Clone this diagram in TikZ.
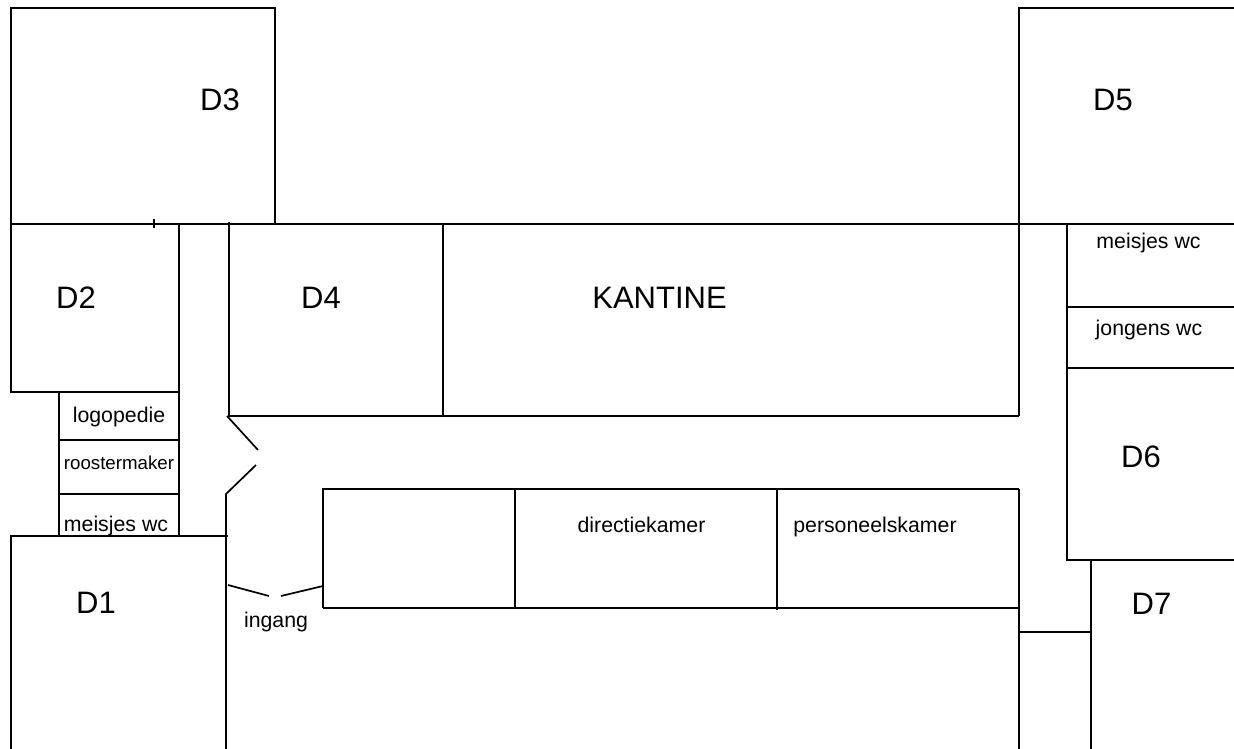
\documentclass[tikz,border=0pt]{standalone}
\usepackage{fontspec}
\setmainfont{Liberation Sans}
\tikzset{
  wall/.style={draw=black,line width=1.7pt,line cap=butt},
  biglabel/.style={inner sep=0pt,anchor=base,font=\fontsize{31}{33}\selectfont},
  roomlabel/.style={inner sep=0pt,anchor=base,font=\fontsize{21.3}{23}\selectfont},
  tinylabel/.style={inner sep=0pt,anchor=base,font=\fontsize{18.7}{20}\selectfont}
}
\begin{document}
\begin{tikzpicture}[x=1pt,y=-1pt]
\useasboundingbox (0,0) rectangle (1234,749);
% top blocks
\draw[wall] (11,224) -- (11,8) -- (275,8) -- (275,224);
\draw[wall] (1234,8) -- (1019,8) -- (1019,416);
\draw[wall] (11,224) -- (1234,224);
\draw[wall] (154,219) -- (154,228);
% left wing
\draw[wall] (11,224) -- (11,392) -- (179,392);
\draw[wall] (179,224) -- (179,536);
\draw[wall] (59,392) -- (59,536);
\draw[wall] (59,440) -- (179,440);
\draw[wall] (59,494) -- (179,494);
\draw[wall] (11,749) -- (11,536) -- (228,536);
\draw[wall] (226,749) -- (226,494) -- (256,465);
% D4 and canteen
\draw[wall] (229,222) -- (229,416) -- (1019,416);
\draw[wall] (443,224) -- (443,416);
\draw[wall] (227,416) -- (258,450);
% entrance
\draw[wall] (228,585) -- (269,596);
\draw[wall] (281,596) -- (323,586);
% central block
\draw[wall] (323,608) -- (323,489) -- (1019,489);
\draw[wall] (323,608) -- (1019,608);
\draw[wall] (515,489) -- (515,608);
\draw[wall] (777,489) -- (777,610);
\draw[wall] (1019,489) -- (1019,749);
\draw[wall] (1019,632) -- (1091,632);
% right wing
\draw[wall] (1067,224) -- (1067,560) -- (1234,560);
\draw[wall] (1067,307) -- (1234,307);
\draw[wall] (1067,368) -- (1234,368);
\draw[wall] (1091,560) -- (1091,749);
% labels
\node[biglabel] (d3) at (220,111) {D3};
\node[biglabel] (d5) at (1113,111) {D5};
\node[biglabel] (d2) at (76,308) {D2};
\node[biglabel] (d4) at (321,308) {D4};
\node[biglabel] (kantine) at (659.5,308) {KANTINE};
\node[biglabel] (d1) at (96,613) {D1};
\node[biglabel] (d6) at (1141,467) {D6};
\node[biglabel] (d7) at (1151.5,614) {D7};
\node[roomlabel] (logo) at (119,422) {logopedie};
\node[tinylabel] (rooster) at (119,469) {roostermaker};
\node[roomlabel] (mwcl) at (116,531) {meisjes wc};
\node[roomlabel] (ingang) at (276,627) {ingang};
\node[roomlabel] (direc) at (641.5,532) {directiekamer};
\node[roomlabel] (pers) at (875,532) {personeelskamer};
\node[roomlabel] (mwcr) at (1148.5,248) {meisjes wc};
\node[roomlabel] (jwc) at (1149,335) {jongens wc};
\end{tikzpicture}
\end{document}
